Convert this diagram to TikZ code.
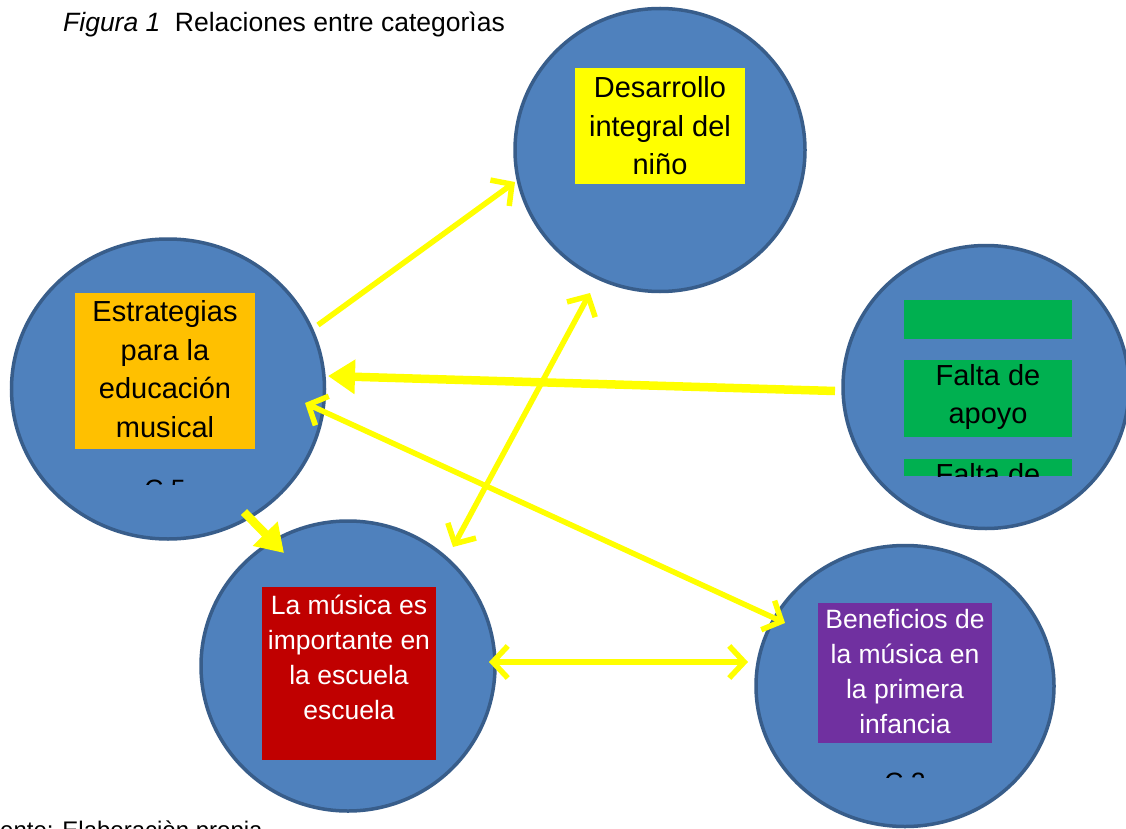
\documentclass[tikz,border=0pt]{standalone}
\usepackage{fontspec}
\setmainfont{Liberation Sans}
\usetikzlibrary{arrows.meta,shapes.geometric}
\definecolor{circfill}{HTML}{4F81BD}
\definecolor{circline}{HTML}{385D8A}
\definecolor{ylw}{HTML}{FFFF00}
\definecolor{boxorange}{HTML}{FFC000}
\definecolor{boxgreen}{HTML}{00B050}
\definecolor{boxred}{HTML}{C00000}
\definecolor{boxpurple}{HTML}{7030A0}
\begin{document}
\begin{tikzpicture}[x=1pt,y=-1pt,
  cat/.style={ellipse, fill=circfill, draw=circline, line width=3.5pt, inner sep=0pt},
  bigtext/.style={font=\fontsize{29}{38.5}\selectfont, align=center, inner sep=0pt},
  whitetext/.style={font=\fontsize{26.5}{35}\selectfont, align=center, text=white, inner sep=0pt},
  boxst/.style={inner sep=0pt, draw=none},
  captext/.style={font=\fontsize{26.5}{30}\selectfont, inner sep=0pt},
  linkarrow/.style={draw=ylw, line width=5.5pt, -{Straight Barb[length=15pt,width=32pt]}},
  twoway/.style={draw=ylw, line width=5.5pt, {Straight Barb[length=15pt,width=32pt]}-{Straight Barb[length=15pt,width=32pt]}},
  bigarrow/.style={draw=ylw, line width=8.5pt, -{Triangle[length=27pt,width=33pt]}}
]
\clip (0,0) rectangle (1126,829);
\fill[white] (0,0) rectangle (1126,829);

% title
\node[captext, anchor=base west] (title) at (63,32) {\textit{Figura 1}\hspace{14.5pt}Relaciones entre categorìas};

% circles
\node[cat, minimum width=290pt, minimum height=283pt] (top) at (660,150) {};
\node[cat, minimum width=313pt, minimum height=300pt] (left) at (168,389) {};
\node[cat, minimum width=286pt, minimum height=283pt] (right) at (986,387) {};
\node[cat, minimum width=294pt, minimum height=290pt] (botl) at (348,666) {};
\node[cat, minimum width=298pt, minimum height=281pt] (botr) at (905,686) {};

% boxes
\node[boxst, fill=ylw, minimum width=170pt, minimum height=116pt] (ybox) at (660,126) {};
\node[bigtext] (ytext) at (ybox.center) {Desarrollo\\integral del\\niño};

\node[boxst, fill=boxorange, minimum width=180pt, minimum height=156pt] (obox) at (165,371) {};
\node[bigtext] (otext) at (165,369) {Estrategias\\para la\\educación\\musical};

\node[boxst, fill=boxgreen, minimum width=168pt, minimum height=39pt] (g1) at (988,319.5) {};
\node[boxst, fill=boxgreen, minimum width=168pt, minimum height=77pt] (g2) at (988,398.5) {};
\node[bigtext] (g2text) at (988,397) {Falta de\\apoyo};
\node[boxst, fill=boxgreen, minimum width=168pt, minimum height=17pt] (g3) at (988,467.5) {};
\begin{scope}
  \clip (904,459) rectangle (1072,476);
  \node[bigtext, anchor=north] (g3text) at (988,463.5) {Falta de};
\end{scope}

\node[boxst, fill=boxred, minimum width=174pt, minimum height=173pt] (rbox) at (349,673.5) {};
\node[whitetext] (rtext) at (349,657) {La música es\\importante en\\la escuela\\escuela};

\node[boxst, fill=boxpurple, minimum width=174pt, minimum height=140pt] (pbox) at (905,673) {};
\node[whitetext] (ptext) at (905,672) {Beneficios de\\la música en\\la primera\\infancia};

% clipped circle labels
\begin{scope}
  \clip (120,470) rectangle (220,484);
  \node[captext, anchor=north] (c5) at (165,480) {C 5};
\end{scope}
\begin{scope}
  \clip (860,765) rectangle (950,777.5);
  \node[captext, anchor=north] (c2) at (905,773) {C 2};
\end{scope}

% footer
\node[font=\fontsize{24}{28}\selectfont, inner sep=0pt, anchor=base west] (foot) at (-28,838) {Fuente: Elaboraciòn propia};

% connector end points
\coordinate (a1s) at (318,325);
\coordinate (a1e) at (515,182);
\coordinate (a2s) at (453,547);
\coordinate (a2e) at (590,293);
\coordinate (a3s) at (835,391);
\coordinate (a3e) at (328,376);
\coordinate (a4s) at (305,403);
\coordinate (a4e) at (785,623);
\coordinate (a5s) at (244,512);
\coordinate (a5e) at (284,553);
\coordinate (a6s) at (489,662);
\coordinate (a6e) at (748,662);

% connectors
\draw[linkarrow] (a1s) -- (a1e);
\draw[twoway] (a2s) -- (a2e);
\draw[bigarrow] (a3s) -- (a3e);
\draw[twoway] (a4s) -- (a4e);
\draw[bigarrow] (a5s) -- (a5e);
\draw[twoway] (a6s) -- (a6e);
\end{tikzpicture}
\end{document}
